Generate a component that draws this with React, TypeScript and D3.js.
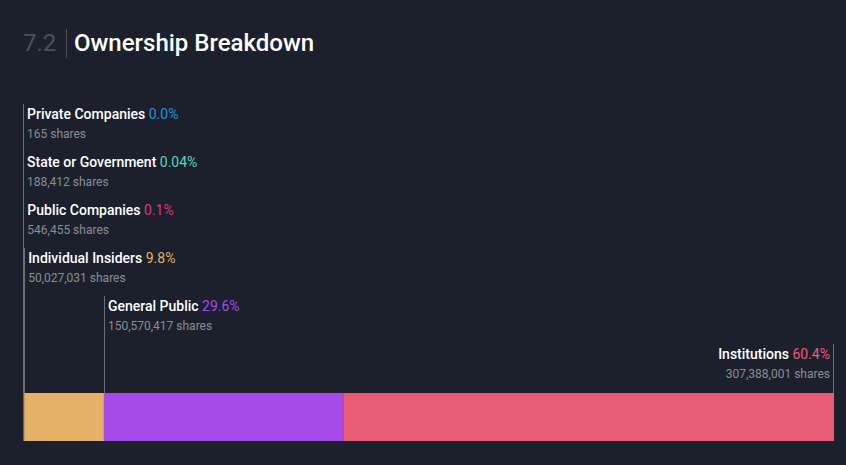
import React from "react";
import * as d3 from "d3";

const categories = ["Private Companies", "State or Government", "Public Companies", "Individual Insiders", "General Public", "Institutions"];
const percentLabels = ["0.0%", "0.04%", "0.1%", "9.8%", "29.6%", "60.4%"];
const shares = [165, 188412, 546455, 50027031, 150570417, 307388001];
const colors = ["#2394df", "#52d8c0", "#d23f7e", "#e5b267", "#a64ae8", "#e85d75"];

const W = 846;
const H = 465;
const BG = "#1b202c";

export default function App() {
  const total = d3.sum(shares);
  const x = d3.scaleLinear().domain([0, total]).range([23, 834]);
  const cum: number[] = [];
  let acc = 0;
  shares.forEach((s) => {
    cum.push(acc);
    acc += s;
  });
  const barTop = 393;
  const barH = 48;
  const rowTop = 104;
  const rowStep = 48;
  const font = "Roboto, sans-serif";
  const last = categories.length - 1;

  return (
    <svg width={W} height={H} style={{ position: "absolute", left: 0, top: 0, background: BG }}>
      <rect x={0} y={0} width={W} height={H} fill={BG} />
      <text x={23} y={51} fontFamily={font} fontSize={24} fill="#4b505b">7.2</text>
      <line x1={66.5} x2={66.5} y1={29} y2={58} stroke="#4b505b" strokeWidth={1} />
      <text x={74} y={51} fontFamily={font} fontSize={24} fontWeight={500} fill="#ffffff">Ownership Breakdown</text>

      {shares.map((s, i) => (
        <rect key={"b" + i} x={x(cum[i])} y={barTop} width={Math.max(0, x(cum[i] + s) - x(cum[i]))} height={barH} fill={colors[i]} />
      ))}

      {categories.map((c, i) => {
        const isLast = i === last;
        const lx = isLast ? x(cum[i] + shares[i]) - 1 : x(cum[i]);
        const top = rowTop + i * rowStep;
        const tx = isLast ? lx - 3 : lx + 4;
        const anchor = isLast ? "end" : "start";
        return (
          <g key={"l" + i}>
            <line x1={Math.round(lx) + 0.5} x2={Math.round(lx) + 0.5} y1={top} y2={barTop} stroke="#6b707b" strokeWidth={1} />
            <text x={tx} y={top + 15} fontFamily={font} fontSize={14} fontWeight={500} fill="#ffffff" textAnchor={anchor}>
              {c + " "}
              <tspan fill={colors[i]} fontWeight={400}>{percentLabels[i]}</tspan>
            </text>
            <text x={tx} y={top + 34} fontFamily={font} fontSize={12} fill="#8a8e96" textAnchor={anchor}>
              {d3.format(",")(shares[i]) + " shares"}
            </text>
          </g>
        );
      })}
    </svg>
  );
}
